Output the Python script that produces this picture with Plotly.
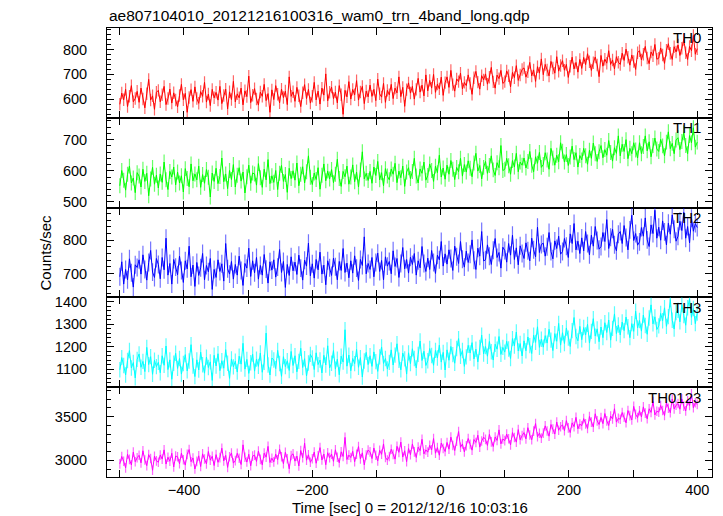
import plotly.graph_objects as go
from plotly.subplots import make_subplots

TITLE = "ae807104010_20121216100316_wam0_trn_4band_long.qdp"
XLABEL = "Time [sec] 0 = 2012/12/16 10:03:16"
YLABEL = "Counts/sec"
BANDS = ["TH0", "TH1", "TH2", "TH3", "TH0123"]
COLORS = ["#ff0000", "#00ff00", "#0000ff", "#00ffff", "#ff00ff"]
ERR_COLORS = ["rgba(255,0,0,0.6)", "rgba(0,255,0,0.6)", "rgba(0,0,255,0.55)",
              "rgba(0,255,255,0.65)", "rgba(255,0,255,0.6)"]

T_START = -500
T_STEP = 3

# typical half-length of the error bars (counts/sec)
ERRBAR = [25, 24, 27, 34, 55]

TH0 = [
 580, 625, 598, 640, 571, 612, 655, 590, 603, 632,
 588, 645, 601, 566, 622, 680, 597, 614, 560, 628,
 636, 590, 618, 652, 579, 603, 641, 585, 626, 597,
 570, 615, 660, 598, 624, 548, 607, 639, 592, 650,
 603, 584, 631, 612, 668, 589, 621, 575, 640, 606,
 628, 597, 652, 583, 615, 641, 562, 630, 599, 672,
 590, 622, 606, 645, 578, 634, 611, 693, 587, 616,
 643, 601, 577, 629, 612, 660, 595, 623, 548, 638,
 599, 655, 620, 586, 641, 607, 633, 579, 690, 612,
 630, 592, 648, 614, 571, 626, 659, 603, 640, 585,
 612, 668, 598, 633, 581, 645, 617, 702, 594, 628,
 649, 603, 629, 586, 655, 618, 540, 636, 610, 671,
 601, 640, 618, 675, 597, 629, 652, 583, 633, 610,
 657, 612, 640, 595, 681, 622, 609, 664, 588, 636,
 618, 660, 603, 645, 626, 690, 611, 648, 572, 639,
 666, 625, 652, 601, 640, 684, 629, 657, 614, 698,
 634, 676, 645, 700, 628, 661, 642, 689, 616, 667,
 690, 648, 716, 659, 633, 682, 671, 705, 642, 668,
 655, 698, 664, 620, 687, 712, 669, 641, 695, 678,
 702, 661, 689, 728, 670, 645, 697, 683, 716, 664,
 671, 714, 695, 650, 708, 687, 735, 676, 698, 720,
 726, 689, 711, 748, 694, 718, 672, 731, 705, 762,
 699, 740, 718, 694, 752, 726, 705, 771, 713, 736,
 755, 717, 740, 688, 733, 769, 722, 748, 709, 760,
 724, 768, 739, 783, 751, 716, 747, 770, 738, 691,
 776, 733, 761, 745, 795, 740, 758, 722, 771, 749,
 740, 785, 756, 801, 769, 737, 778, 752, 720, 787,
 795, 758, 781, 812, 766, 743, 790, 775, 820, 761,
 765, 806, 778, 744, 797, 823, 785, 760, 811, 790,
 818, 776, 805, 840, 787, 760, 812, 795, 856, 781,
 803,
]

TH1 = [
 552, 601, 570, 538, 589, 615, 561, 577, 530, 594,
 583, 548, 605, 566, 592, 520, 574, 611, 557, 586,
 545, 590, 563, 628, 571, 540, 598, 580, 612, 555,
 596, 561, 584, 532, 607, 575, 549, 622, 568, 590,
 571, 615, 547, 588, 560, 604, 579, 516, 593, 566,
 608, 559, 582, 641, 565, 590, 543, 601, 572, 620,
 548, 586, 610, 567, 596, 529, 581, 618, 560, 593,
 590, 554, 623, 578, 547, 605, 571, 636, 559, 584,
 563, 601, 540, 592, 617, 566, 588, 531, 608, 575,
 600, 570, 625, 552, 589, 613, 561, 597, 648, 579,
 556, 593, 572, 610, 541, 586, 622, 568, 599, 574,
 604, 562, 589, 637, 575, 550, 598, 581, 615, 557,
 580, 619, 565, 596, 548, 603, 661, 574, 592, 569,
 598, 560, 612, 585, 630, 571, 594, 552, 607, 583,
 571, 606, 589, 624, 562, 599, 578, 615, 550, 596,
 610, 575, 598, 640, 583, 561, 606, 592, 628, 570,
 585, 622, 601, 566, 615, 594, 650, 580, 609, 573,
 618, 589, 633, 605, 572, 611, 597, 640, 583, 620,
 596, 632, 608, 581, 625, 656, 599, 617, 574, 611,
 630, 592, 617, 648, 603, 585, 626, 610, 681, 601,
 605, 640, 616, 589, 633, 612, 656, 597, 628, 618,
 641, 609, 630, 662, 618, 597, 645, 624, 659, 611,
 620, 658, 635, 605, 672, 641, 618, 650, 629, 690,
 663, 628, 652, 617, 644, 679, 636, 658, 612, 649,
 635, 672, 648, 621, 666, 640, 689, 655, 630, 661,
 681, 642, 668, 650, 697, 659, 631, 674, 656, 712,
 648, 685, 662, 700, 639, 672, 655, 690, 667, 641,
 690, 655, 678, 712, 664, 693, 645, 681, 705, 670,
 662, 701, 680, 648, 692, 725, 671, 688, 655, 699,
 706, 668, 694, 722, 681, 655, 713, 690, 738, 676,
 692,
]

TH2 = [
 690, 735, 668, 712, 681, 744, 702, 659, 726, 718,
 741, 698, 756, 712, 680, 733, 769, 704, 688, 745,
 727, 684, 748, 711, 806, 695, 730, 668, 742, 719,
 696, 752, 709, 673, 738, 714, 782, 690, 725, 661,
 733, 694, 717, 760, 681, 724, 705, 745, 652, 712,
 688, 741, 706, 729, 677, 790, 714, 698, 736, 683,
 727, 695, 752, 709, 664, 730, 716, 776, 691, 738,
 702, 748, 683, 724, 695, 757, 713, 671, 735, 710,
 741, 689, 719, 772, 703, 736, 658, 727, 694, 750,
 708, 734, 697, 755, 716, 680, 740, 722, 791, 693,
 729, 686, 742, 711, 764, 698, 725, 666, 738, 717,
 694, 746, 720, 681, 736, 709, 775, 703, 731, 687,
 738, 701, 753, 716, 679, 742, 724, 810, 699, 730,
 712, 748, 690, 733, 761, 706, 739, 681, 750, 722,
 736, 699, 768, 721, 745, 688, 730, 778, 714, 742,
 701, 749, 727, 760, 695, 738, 717, 781, 730, 706,
 746, 712, 769, 733, 700, 755, 741, 796, 722, 759,
 728, 771, 745, 709, 782, 750, 730, 796, 743, 719,
 767, 733, 758, 801, 740, 712, 776, 752, 826, 738,
 741, 786, 752, 727, 770, 805, 748, 763, 716, 779,
 769, 734, 790, 755, 815, 742, 777, 726, 783, 760,
 745, 792, 768, 738, 806, 771, 750, 839, 763, 787,
 791, 752, 780, 823, 766, 744, 798, 775, 812, 758,
 766, 805, 782, 748, 819, 790, 850, 771, 797, 760,
 807, 768, 826, 790, 756, 815, 782, 841, 799, 773,
 781, 823, 796, 862, 775, 809, 833, 786, 768, 818,
 826, 790, 844, 808, 771, 831, 875, 799, 820, 785,
 795, 838, 812, 867, 801, 781, 846, 820, 890, 806,
 839, 800, 858, 825, 786, 851, 818, 876, 833, 797,
 812, 857, 829, 884, 806, 841, 792, 866, 827, 850,
 838,
]

TH3 = [
 1098, 1152, 1117, 1075, 1139, 1183, 1106, 1130, 1062, 1144,
 1168, 1109, 1135, 1090, 1197, 1121, 1156, 1078, 1140, 1112,
 1131, 1085, 1160, 1118, 1203, 1099, 1142, 1056, 1127, 1171,
 1104, 1148, 1079, 1126, 1165, 1093, 1137, 1209, 1115, 1068,
 1142, 1097, 1176, 1120, 1083, 1154, 1108, 1133, 1051, 1162,
 1115, 1169, 1094, 1138, 1105, 1187, 1127, 1060, 1146, 1111,
 1136, 1088, 1158, 1123, 1215, 1101, 1144, 1082, 1129, 1167,
 1092, 1145, 1113, 1172, 1087, 1131, 1260, 1119, 1075, 1150,
 1141, 1103, 1184, 1126, 1069, 1156, 1112, 1138, 1095, 1179,
 1117, 1160, 1089, 1135, 1193, 1108, 1147, 1071, 1128, 1166,
 1150, 1099, 1173, 1121, 1141, 1084, 1162, 1119, 1204, 1106,
 1127, 1183, 1101, 1145, 1076, 1158, 1132, 1275, 1114, 1163,
 1094, 1148, 1125, 1188, 1109, 1152, 1066, 1137, 1175, 1121,
 1160, 1113, 1177, 1134, 1091, 1155, 1199, 1126, 1148, 1102,
 1131, 1186, 1119, 1163, 1213, 1140, 1098, 1172, 1146, 1079,
 1173, 1125, 1191, 1148, 1106, 1166, 1225, 1139, 1180, 1117,
 1138, 1192, 1161, 1118, 1184, 1150, 1207, 1132, 1175, 1097,
 1186, 1140, 1201, 1165, 1127, 1192, 1236, 1158, 1183, 1113,
 1155, 1206, 1172, 1218, 1146, 1189, 1133, 1197, 1251, 1168,
 1201, 1158, 1223, 1178, 1141, 1211, 1189, 1245, 1166, 1197,
 1176, 1224, 1190, 1148, 1236, 1203, 1265, 1181, 1214, 1159,
 1226, 1182, 1243, 1205, 1170, 1251, 1219, 1288, 1197, 1233,
 1198, 1249, 1216, 1277, 1229, 1183, 1258, 1224, 1303, 1207,
 1262, 1214, 1283, 1238, 1201, 1271, 1329, 1245, 1226, 1290,
 1231, 1285, 1252, 1299, 1216, 1268, 1324, 1247, 1279, 1222,
 1287, 1240, 1306, 1263, 1318, 1229, 1281, 1345, 1258, 1296,
 1252, 1309, 1271, 1331, 1288, 1240, 1302, 1268, 1357, 1283,
 1316, 1269, 1340, 1294, 1255, 1327, 1385, 1301, 1332, 1276,
 1292, 1347, 1315, 1372, 1290, 1333, 1408, 1317, 1278, 1351,
 1361, 1310, 1386, 1338, 1295, 1372, 1412, 1330, 1369, 1302,
 1349,
]

TH0123 = [
 2960, 3045, 2990, 2915, 3070, 3012, 2948, 3095, 2985, 3030,
 3058, 2972, 3110, 3004, 2940, 3066, 3021, 2887, 3048, 2995,
 2979, 3062, 3015, 3120, 2958, 3036, 2990, 3081, 2925, 3050,
 3041, 2962, 3083, 3007, 2946, 3069, 3124, 2985, 3028, 2901,
 2989, 3052, 2930, 3075, 3016, 2960, 3102, 3003, 3047, 2941,
 3066, 2978, 3031, 3139, 2994, 3058, 2920, 3042, 3085, 2969,
 2997, 3081, 3024, 2953, 3178, 3036, 2981, 3070, 2938, 3049,
 3060, 2988, 3107, 3012, 2949, 3083, 3037, 3160, 2976, 3025,
 2983, 3071, 3008, 3128, 3041, 2962, 3092, 3019, 2904, 3056,
 3075, 2991, 3049, 2936, 3113, 3030, 3197, 3002, 3064, 2978,
 3018, 3095, 2967, 3052, 3146, 3004, 3073, 2950, 3088, 3031,
 3072, 2989, 3121, 3036, 2973, 3098, 3045, 3263, 3010, 3060,
 3033, 3104, 2985, 3070, 3158, 3017, 3086, 2948, 3062, 3119,
 3097, 3021, 3142, 3058, 2994, 3115, 3070, 3188, 3035, 3003,
 3045, 3128, 3069, 3014, 3161, 3092, 3209, 3038, 3110, 2986,
 3136, 3065, 3188, 3097, 3033, 3152, 3111, 3241, 3074, 3120,
 3094, 3173, 3120, 3250, 3082, 3146, 3059, 3199, 3138, 3101,
 3205, 3128, 3266, 3170, 3112, 3219, 3330, 3150, 3188, 3097,
 3168, 3250, 3183, 3117, 3239, 3205, 3288, 3152, 3221, 3266,
 3240, 3171, 3297, 3212, 3158, 3268, 3228, 3349, 3189, 3244,
 3226, 3301, 3247, 3178, 3318, 3262, 3209, 3352, 3236, 3283,
 3318, 3246, 3374, 3290, 3236, 3335, 3421, 3270, 3311, 3255,
 3312, 3395, 3336, 3277, 3410, 3358, 3301, 3439, 3344, 3385,
 3407, 3340, 3455, 3372, 3318, 3429, 3386, 3492, 3361, 3415,
 3396, 3478, 3418, 3365, 3502, 3437, 3381, 3533, 3452, 3410,
 3491, 3420, 3536, 3452, 3399, 3508, 3473, 3591, 3438, 3480,
 3471, 3547, 3493, 3430, 3570, 3512, 3462, 3618, 3526, 3489,
 3568, 3497, 3612, 3541, 3476, 3590, 3549, 3674, 3520, 3562,
 3552, 3628, 3570, 3513, 3660, 3597, 3545, 3702, 3589, 3631,
 3650, 3585, 3703, 3620, 3566, 3681, 3628, 3760, 3602, 3659,
 3640,
]

SERIES = [TH0, TH1, TH2, TH3, TH0123]
Y_RANGES = [[526, 886], [482, 770], [628, 898], [1021, 1418], [2810, 3837]]
Y_DTICK = [100, 100, 100, 100, 500]
Y_MINOR = [20, 20, 20, 20, 100]
X_RANGE = [-520, 423]

TIME = [T_START + T_STEP * i for i in range(len(TH0))]

FONT = "Liberation Sans, Arial, Helvetica, sans-serif"

fig = make_subplots(rows=5, cols=1, shared_xaxes=True, vertical_spacing=0)

for i, (vals, col) in enumerate(zip(SERIES, COLORS)):
    fig.add_trace(
        go.Scatter(x=TIME, y=vals, mode="lines",
                   line=dict(color=col, width=1), showlegend=False,
                   error_y=dict(type="constant", value=ERRBAR[i],
                                color=ERR_COLORS[i], thickness=1.2, width=0),
                   hoverinfo="skip"),
        row=i + 1, col=1)

axis_common = dict(
    showline=True, linecolor="black", linewidth=1, mirror="ticks",
    ticks="inside", ticklen=7, tickwidth=1, tickcolor="black",
    showgrid=False, zeroline=False,
    tickfont=dict(family=FONT, size=14.5, color="black"),
)

for i in range(5):
    n = "" if i == 0 else str(i + 1)
    fig.layout["xaxis" + n].update(
        range=X_RANGE, tick0=0, dtick=200,
        showticklabels=(i == 4),
        minor=dict(dtick=100, ticks="inside", ticklen=7, tickcolor="black",
                   showgrid=False),
        **axis_common)
    fig.layout["yaxis" + n].update(
        range=Y_RANGES[i], tick0=0, dtick=Y_DTICK[i],
        minor=dict(dtick=Y_MINOR[i], ticks="inside", ticklen=4,
                   tickcolor="black", showgrid=False),
        ticklabelstandoff=16,
        **axis_common)
    fig.add_annotation(
        text=BANDS[i], xref="paper", x=0.985, xanchor="right",
        yref="y" + n + " domain", y=0.89, yanchor="middle",
        showarrow=False, font=dict(family=FONT, size=15, color="black"))

fig.add_annotation(
    text=TITLE, xref="paper", x=0, xanchor="left",
    yref="paper", y=1.0, yanchor="bottom", yshift=2,
    showarrow=False, font=dict(family=FONT, size=15.5, color="black"))

fig.add_annotation(
    text=XLABEL, xref="paper", x=0.5, xanchor="center",
    yref="paper", y=0, yanchor="top", yshift=-20,
    showarrow=False, font=dict(family=FONT, size=15, color="black"))

fig.add_annotation(
    text=YLABEL, xref="paper", x=0, xanchor="center", xshift=-62,
    yref="paper", y=0.5, yanchor="middle", textangle=-90,
    showarrow=False, font=dict(family=FONT, size=15, color="black"))

fig.update_layout(
    width=723, height=516,
    margin=dict(l=107, r=11, t=28, b=39),
    paper_bgcolor="white", plot_bgcolor="white",
    font=dict(family=FONT, color="black"),
)

fig.write_html("out.html",
               config={"displayModeBar": False},
               post_script="document.body.style.margin='0';"
                           "document.body.style.overflow='hidden';")
